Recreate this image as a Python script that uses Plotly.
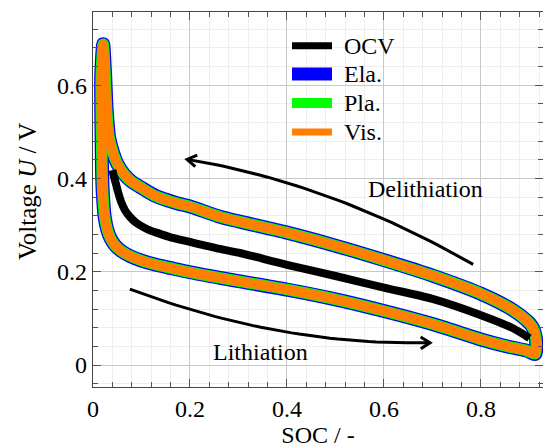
import numpy as np
import plotly.graph_objects as go

# ---- data -------------------------------------------------------------
# open-circuit voltage
ocv_soc = [0.040, 0.043, 0.047, 0.052, 0.058, 0.066, 0.076, 0.088, 0.100, 0.115,
           0.131, 0.160, 0.200, 0.262, 0.300, 0.400, 0.500, 0.600, 0.700, 0.800,
           0.866, 0.900]
ocv_u = [0.418, 0.405, 0.390, 0.370, 0.350, 0.332, 0.318, 0.306, 0.298, 0.290,
         0.284, 0.274, 0.264, 0.249, 0.241, 0.215, 0.191, 0.166, 0.142, 0.107,
         0.079, 0.058]

# hysteresis loop: lithiation branch (top-left peak -> right end)
lith_soc = [0.021, 0.017, 0.017, 0.018, 0.019, 0.021, 0.024, 0.029, 0.036, 0.046,
            0.058, 0.076, 0.100, 0.130, 0.165, 0.200, 0.262, 0.300, 0.400, 0.500,
            0.600, 0.700, 0.800, 0.850, 0.894, 0.912]
lith_u = [0.688, 0.620, 0.550, 0.470, 0.400, 0.355, 0.318, 0.292, 0.272, 0.256,
          0.245, 0.234, 0.224, 0.215, 0.207, 0.199, 0.187, 0.180, 0.162, 0.141,
          0.116, 0.088, 0.055, 0.041, 0.031, 0.024]
# delithiation branch (right end -> top-left peak)
delith_soc = [0.912, 0.914, 0.913, 0.908, 0.900, 0.866, 0.800, 0.700, 0.600, 0.500,
              0.400, 0.300, 0.262, 0.200, 0.173, 0.130, 0.097, 0.080, 0.065, 0.050,
              0.040, 0.033, 0.028, 0.025, 0.021]
delith_u = [0.024, 0.040, 0.060, 0.078, 0.090, 0.118, 0.153, 0.192, 0.225, 0.256,
            0.284, 0.308, 0.318, 0.340, 0.347, 0.362, 0.382, 0.393, 0.408, 0.432,
            0.460, 0.490, 0.550, 0.620, 0.688]

# model results (elastic, plastic, viscous) share the same loop
ela_soc, ela_u = lith_soc + delith_soc[1:], lith_u + delith_u[1:]
pla_soc, pla_u = list(ela_soc), list(ela_u)
vis_soc, vis_u = list(ela_soc), list(ela_u)

# direction arrows: start, bend control point, tip (quadratic curves)
arrow_delith_soc = [0.784, 0.489, 0.194]
arrow_delith_u = [0.216, 0.391, 0.441]
arrow_lith_soc = [0.076, 0.386, 0.695]
arrow_lith_u = [0.163, 0.041, 0.048]

x_ticks = [0, 0.2, 0.4, 0.6, 0.8]
y_ticks = [0, 0.2, 0.4, 0.6]

# ---- layout geometry --------------------------------------------------
W, H = 543, 448
ML, MR, MT, MB = 93, 0, 12, 61
X_RANGE = [0.0, 0.928]
Y_RANGE = [-0.047, 0.757]
plot_w, plot_h = W - ML - MR, H - MT - MB
ppx = plot_w / (X_RANGE[1] - X_RANGE[0])
ppy = plot_h / (Y_RANGE[1] - Y_RANGE[0])

FONT = "Liberation Serif"
FS = 24

fig = go.Figure()

series = [
    ("Ela.", ela_soc, ela_u, "#0000ff", 14),
    ("Pla.", pla_soc, pla_u, "#00ff00", 11.5),
    ("Vis.", vis_soc, vis_u, "#ff7f00", 9.5),
]
for name, xs, ys, col, w in series:
    fig.add_trace(go.Scatter(x=xs, y=ys, mode="lines", name=name,
                             line=dict(color=col, width=w, shape="spline", smoothing=0.7),
                             showlegend=False))

fig.add_trace(go.Scatter(x=ocv_soc, y=ocv_u, mode="lines", name="OCV",
                         line=dict(color="black", width=8, shape="spline", smoothing=0.8),
                         showlegend=False))


def bezier(xs, ys, n=40):
    t = np.linspace(0, 1, n)
    bx = (1 - t) ** 2 * xs[0] + 2 * (1 - t) * t * xs[1] + t ** 2 * xs[2]
    by = (1 - t) ** 2 * ys[0] + 2 * (1 - t) * t * ys[1] + t ** 2 * ys[2]
    return bx, by


def chevron(xs, ys, length=11, half_angle=32):
    """Open arrow head at the end of a curve, shaped in screen space."""
    tx, ty = xs[-1], ys[-1]
    dx = (xs[-1] - xs[-2]) * ppx
    dy = (ys[-1] - ys[-2]) * ppy
    n = np.hypot(dx, dy)
    dx, dy = dx / n, dy / n
    pts_x, pts_y = [], []
    for s in (1, -1):
        a = np.radians(s * half_angle)
        bx = -(dx * np.cos(a) - dy * np.sin(a)) * length
        by = -(dx * np.sin(a) + dy * np.cos(a)) * length
        pts_x.append(tx + bx / ppx)
        pts_y.append(ty + by / ppy)
    return [pts_x[0], tx, pts_x[1]], [pts_y[0], ty, pts_y[1]]


for axs, ays in [(arrow_delith_soc, arrow_delith_u), (arrow_lith_soc, arrow_lith_u)]:
    bx, by = bezier(axs, ays)
    fig.add_trace(go.Scatter(x=bx, y=by, mode="lines",
                             line=dict(color="black", width=3),
                             showlegend=False, hoverinfo="skip"))
    hx, hy = chevron(bx, by)
    fig.add_trace(go.Scatter(x=hx, y=hy, mode="lines",
                             line=dict(color="black", width=3),
                             showlegend=False, hoverinfo="skip"))

# ---- legend drawn as line samples with labels -----------------------
legend_items = [("OCV", "black", 7), ("Ela.", "#0000ff", 13),
                ("Pla.", "#00ff00", 10), ("Vis.", "#ff7f00", 7)]
leg_y_px = [45.7, 74, 103, 132]
shapes, annotations = [], []
for (lab, col, w), py in zip(legend_items, leg_y_px):
    yp = (H - MB - py) / plot_h
    shapes.append(dict(type="line", xref="paper", yref="paper",
                       x0=(292 - ML) / plot_w, x1=(332 - ML) / plot_w, y0=yp, y1=yp,
                       line=dict(color=col, width=w), layer="above"))
    annotations.append(dict(xref="paper", yref="paper", x=(342 - ML) / plot_w, y=yp,
                            text=lab, showarrow=False, xanchor="left", yanchor="middle",
                            font=dict(family=FONT, size=FS, color="black")))

annotations.append(dict(x=0.685, y=0.377, text="Delithiation", showarrow=False,
                        font=dict(family=FONT, size=FS, color="black")))
annotations.append(dict(x=0.346, y=0.029, text="Lithiation", showarrow=False,
                        font=dict(family=FONT, size=FS, color="black")))
annotations.append(dict(xref="paper", yref="paper", x=(27 - ML) / plot_w,
                        y=(H - MB - 192) / plot_h, text="Voltage <i>U</i> / V",
                        textangle=-90, showarrow=False, xanchor="center", yanchor="middle",
                        font=dict(family=FONT, size=25, color="black")))

axis_common = dict(
    showline=True, linecolor="#444444", linewidth=1.3, mirror="ticks",
    ticks="inside", ticklen=8, tickcolor="#555555", tickwidth=1,
    showgrid=True, gridcolor="#c8c8c8", gridwidth=1, zeroline=False,
    tickfont=dict(family=FONT, size=FS, color="black"),
)

fig.update_layout(
    width=W, height=H, margin=dict(l=ML, r=MR, t=MT, b=MB, autoexpand=False),
    plot_bgcolor="white", paper_bgcolor="white", showlegend=False,
    xaxis=dict(range=X_RANGE, tickvals=x_ticks, **axis_common,
               minor=dict(dtick=0.04, tick0=0, ticks="inside", ticklen=5,
                          tickcolor="#555555", showgrid=True, gridcolor="#eeeeee"),
               title=dict(text="SOC / -", standoff=5,
                          font=dict(family=FONT, size=FS, color="black"))),
    yaxis=dict(range=Y_RANGE, tickvals=y_ticks, **axis_common,
               minor=dict(dtick=0.04, tick0=0, ticks="inside", ticklen=5,
                          tickcolor="#555555", showgrid=True, gridcolor="#eeeeee")),
    shapes=shapes, annotations=annotations,
)

fig.write_html("out.html")
